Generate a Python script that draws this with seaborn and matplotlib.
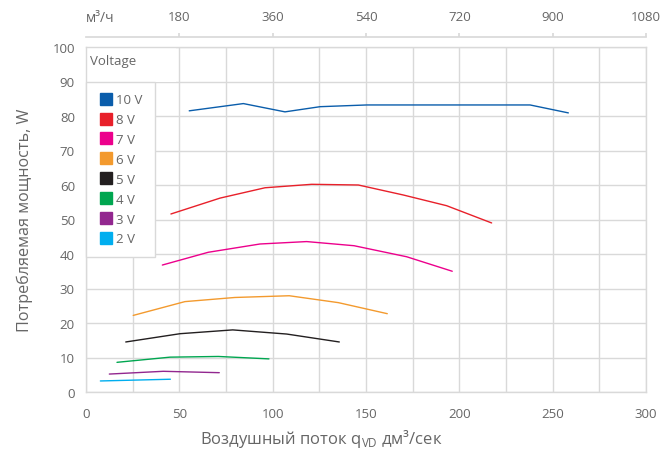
import numpy as np
import pandas as pd
import matplotlib
matplotlib.use('Agg')
import matplotlib.pyplot as plt
from matplotlib.lines import Line2D
from matplotlib.patches import Rectangle
from matplotlib.ticker import MultipleLocator
import seaborn as sns

# ---- data ----
voltages = ['10 V', '8 V', '7 V', '6 V', '5 V', '4 V', '3 V', '2 V']
colors = ['#0a5dab', '#e8202a', '#ec008c', '#f39a2e', '#231f20', '#00a650', '#92278f', '#00aeef']

flow_10 = [55.3, 84.3, 106.6, 125.4, 150.4, 200.0, 237.9, 258.4]
power_10 = [81.5, 83.6, 81.2, 82.7, 83.2, 83.2, 83.2, 80.9]
flow_8 = [45.5, 71.8, 95.9, 120.9, 145.9, 170.0, 193.2, 217.3]
power_8 = [51.6, 56.2, 59.2, 60.2, 60.0, 57.1, 54.0, 49.0]
flow_7 = [40.9, 65.5, 93.2, 118.2, 143.6, 171.8, 196.2]
power_7 = [36.8, 40.5, 42.9, 43.6, 42.4, 39.2, 35.0]
flow_6 = [25.3, 53.0, 79.8, 108.9, 135.2, 161.4]
power_6 = [22.2, 26.2, 27.4, 27.9, 25.9, 22.7]
flow_5 = [21.3, 50.4, 78.6, 107.5, 135.7]
power_5 = [14.5, 16.9, 18.0, 16.8, 14.5]
flow_4 = [16.6, 45.0, 70.9, 98.0]
power_4 = [8.6, 10.1, 10.3, 9.6]
flow_3 = [12.5, 41.4, 71.4]
power_3 = [5.2, 6.0, 5.6]
flow_2 = [7.7, 45.2]
power_2 = [3.2, 3.7]

top_ticks = [180, 360, 540, 720, 900, 1080]

flows = [flow_10, flow_8, flow_7, flow_6, flow_5, flow_4, flow_3, flow_2]
powers = [power_10, power_8, power_7, power_6, power_5, power_4, power_3, power_2]

rows = []
for v, fl, pw in zip(voltages, flows, powers):
    for i, (a, b) in enumerate(zip(fl, pw)):
        rows.append({'Voltage': v, 'flow': a, 'power': b, 'idx': i})
df = pd.DataFrame(rows)

sns.set_theme(style='whitegrid')
plt.rcParams['font.family'] = ['Open Sans', 'DejaVu Sans']
text_c = '#666666'
grid_c = '#d9d9d9'

fig = plt.figure(figsize=(6.71, 4.52), dpi=100)
ax = fig.add_axes([86 / 671, 1 - 393 / 452, 560 / 671, 345 / 452])

sns.lineplot(data=df, x='flow', y='power', hue='Voltage', hue_order=voltages,
             palette=dict(zip(voltages, colors)), sort=False, estimator=None,
             units='Voltage', linewidth=1.0, legend=False, ax=ax, zorder=3)

ax.set_xlim(0, 300)
ax.set_ylim(0, 100)
ax.xaxis.set_major_locator(MultipleLocator(50))
ax.xaxis.set_minor_locator(MultipleLocator(25))
ax.yaxis.set_major_locator(MultipleLocator(10))
ax.grid(which='both', color=grid_c, linewidth=1.0)
ax.set_axisbelow(True)
for s in ax.spines.values():
    s.set_color(grid_c)
    s.set_linewidth(1.0)
ax.tick_params(axis='both', which='both', length=0, colors=text_c, labelsize=9.5)
ax.tick_params(axis='x', pad=11)
ax.tick_params(axis='y', pad=8)

ax.set_ylabel('Потребляемая мощность, W', color=text_c, fontsize=11.6, labelpad=14)
ax.set_xlabel(r'Воздушный поток q$_{\mathregular{VD}}$ дм³/сек', color=text_c, fontsize=12)
ax.xaxis.set_label_coords((321 - 86) / 560, -0.102)

# top axis in m3/h
sec = ax.secondary_xaxis('top', functions=(lambda x: x * 3.6, lambda x: x / 3.6))
sec.set_xticks(top_ticks)
sec.spines['top'].set_position(('outward', 7))
sec.spines['top'].set_color(grid_c)
sec.tick_params(length=3, color=grid_c, colors=text_c, labelsize=9.5, pad=7)
for t in sec.get_xticklabels():
    t.set_color(text_c)
fig.text(86 / 671, 1 - 19 / 452, 'м³/ч', color=text_c, fontsize=10, va='center', ha='left')

# legend
ax.add_patch(Rectangle((0, 0.9), 0.16, 0.1, transform=ax.transAxes,
                       facecolor='white', edgecolor='none', zorder=2.5))
ax.text(0.008, 0.96, 'Voltage', transform=ax.transAxes, color=text_c,
        fontsize=9.5, va='center', ha='left', zorder=4)
handles = [Line2D([], [], marker='s', linestyle='none', markersize=8,
                  markerfacecolor=c, markeredgecolor=c) for c in colors]
leg = ax.legend(handles, voltages, loc='upper left', bbox_to_anchor=(0, 0.9),
                borderaxespad=0, frameon=True, fancybox=False, fontsize=9.5,
                labelspacing=0.52, handletextpad=0.2, borderpad=0.9,
                handlelength=1.2)
leg.get_frame().set_edgecolor(grid_c)
leg.get_frame().set_linewidth(1.0)
leg.get_frame().set_alpha(1)
for t in leg.get_texts():
    t.set_color(text_c)

fig.savefig('out.png', dpi=100)
